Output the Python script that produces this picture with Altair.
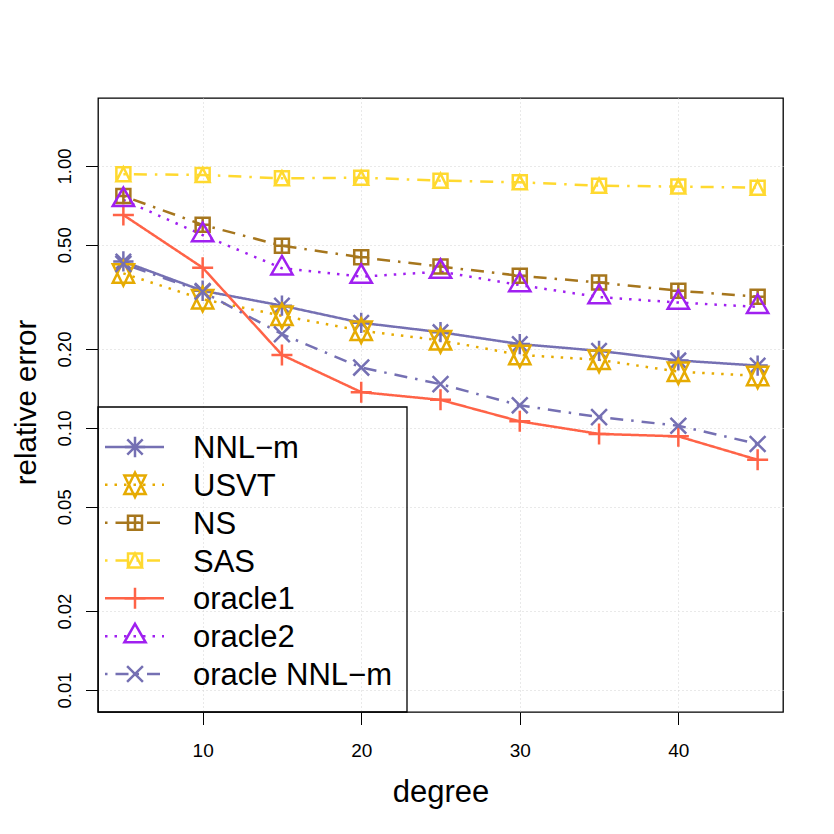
import altair as alt
import pandas as pd

degree = [5, 10, 15, 20, 25, 30, 35, 40, 45]
nnl_m = [0.432, 0.334, 0.293, 0.252, 0.232, 0.209, 0.197, 0.181, 0.173]
usvt = [0.389, 0.310, 0.268, 0.235, 0.216, 0.190, 0.182, 0.164, 0.158]
ns = [0.768, 0.596, 0.496, 0.448, 0.413, 0.381, 0.359, 0.334, 0.317]
sas = [0.930, 0.924, 0.897, 0.902, 0.879, 0.866, 0.841, 0.834, 0.826]
oracle1 = [0.650, 0.409, 0.190, 0.137, 0.128, 0.106, 0.0949, 0.0929, 0.0756]
oracle2 = [0.742, 0.545, 0.407, 0.378, 0.395, 0.351, 0.316, 0.301, 0.290]
oracle_nnl_m = [0.423, 0.331, 0.228, 0.170, 0.147, 0.122, 0.110, 0.102, 0.0869]

methods = ["NNL\u2212m", "USVT", "NS", "SAS", "oracle1", "oracle2", "oracle NNL\u2212m"]
series = [nnl_m, usvt, ns, sas, oracle1, oracle2, oracle_nnl_m]
colors = ["#7570B3", "#E6AB02", "#A6761D", "#FFD92F", "#FF6347", "#A020F0", "#7570B3"]
dot = [2.5, 7]
dotdash = [2.5, 8, 13, 8]
dashes = [[1, 0], dot, dotdash, dotdash, [1, 0], dot, dotdash]
shapes = [
    "M-1.45,0L1.45,0M0,-1.45L0,1.45M-1.1,-1.1L1.1,1.1M-1.1,1.1L1.1,-1.1",
    "M0,-1.76L1.52,1.32L-1.52,1.32ZM0,1.76L1.52,-1.32L-1.52,-1.32Z",
    "M-1,-1L1,-1L1,1L-1,1ZM0,-1L0,1M-1,0L1,0",
    "M-1,-1L1,-1L1,1L-1,1ZM0,-1L1,1L-1,1Z",
    "M-1.5,0L1.5,0M0,-1.5L0,1.5",
    "M0,-1.76L1.52,0.88L-1.52,0.88Z",
    "M-1.13,-1.13L1.13,1.13M-1.13,1.13L1.13,-1.13",
]
y_ticks = [0.01, 0.02, 0.05, 0.1, 0.2, 0.5, 1.0]
x_ticks = [10, 20, 30, 40]

rows = []
for m, vals in zip(methods, series):
    for d, v in zip(degree, vals):
        rows.append({"degree": d, "error": v, "method": m})
df = pd.DataFrame(rows)
leg_df = pd.DataFrame({"method": methods})
box_df = pd.DataFrame({"k": [0]})

W, H = 685, 614
FONT = "Liberation Sans"

color_enc = alt.Color("method:N", scale=alt.Scale(domain=methods, range=colors), legend=None)
dash_enc = alt.StrokeDash("method:N", scale=alt.Scale(domain=methods, range=dashes), legend=None)
shape_enc = alt.Shape("method:N", scale=alt.Scale(domain=methods, range=shapes), legend=None)

x_enc = alt.X(
    "degree:Q",
    scale=alt.Scale(domain=[3.4, 46.6], nice=False, zero=False),
    axis=alt.Axis(
        values=x_ticks, title="degree", grid=True, gridDash=[1, 3], gridColor="#D3D3D3",
        gridWidth=1, domain=False, tickColor="black", tickSize=12.5, tickWidth=1,
        labelFont=FONT, labelFontSize=19, labelColor="black", labelBaseline="alphabetic",
        labelPadding=31.5, labelFlush=False,
        titleFont=FONT, titleFontSize=31, titleFontWeight="normal", titleColor="black",
        titleBaseline="alphabetic", titleX=W / 2, titleY=89, titleAlign="center",
    ),
)
y_enc = alt.Y(
    "error:Q",
    scale=alt.Scale(type="log", domain=[0.00824, 1.817], nice=False, zero=False),
    axis=alt.Axis(
        values=y_ticks, title="relative error", grid=True, gridDash=[1, 3], gridColor="#D3D3D3",
        gridWidth=1, domain=False, tickColor="black", tickSize=12.5, tickWidth=1,
        labelExpr="format(datum.value, '.2f')", labelAngle=270, labelAlign="center",
        labelBaseline="alphabetic", labelPadding=15, labelFlush=False,
        labelFont=FONT, labelFontSize=18.5, labelColor="black",
        titleFont=FONT, titleFontSize=29.5, titleFontWeight="normal", titleColor="black",
        titleAngle=270, titleBaseline="alphabetic", titleAlign="center", titleX=-63, titleY=304,
    ),
)

base = alt.Chart(df)
lines = base.mark_line(strokeWidth=2.5).encode(
    x=x_enc, y=y_enc, color=color_enc, strokeDash=dash_enc, detail="method:N"
)
points = base.mark_point(filled=False, size=196, strokeWidth=2.5, opacity=1).encode(
    x="degree:Q", y="error:Q", color=color_enc, shape=shape_enc
)
data_layer = alt.layer(lines, points)

leg_y = alt.Y(
    "method:N",
    scale=alt.Scale(type="point", domain=methods, range=[349, 576], padding=0),
    axis=None,
)
leg_base = alt.Chart(leg_df)
leg_lines = leg_base.mark_rule(strokeWidth=2.5).encode(
    x=alt.value(7), x2=alt.value(66), y=leg_y, color=color_enc, strokeDash=dash_enc
)
leg_points = leg_base.mark_point(filled=False, size=196, strokeWidth=2.5, opacity=1).encode(
    x=alt.value(37), y=leg_y, color=color_enc, shape=shape_enc
)
leg_text = leg_base.mark_text(
    align="left", baseline="alphabetic", dy=11, font=FONT, fontSize=31, color="black"
).encode(x=alt.value(95), y=leg_y, text="method:N")
leg_box = alt.Chart(box_df).mark_rect(fillOpacity=0, stroke="black", strokeWidth=1.3).encode(
    x=alt.value(0), x2=alt.value(309), y=alt.value(309), y2=alt.value(614)
)

legend = alt.layer(leg_box, leg_lines, leg_points, leg_text)

chart = (
    alt.layer(data_layer, legend)
    .resolve_scale(y="independent")
    .properties(
        width=W, height=H,
        autosize=alt.AutoSizeParams(type="none"),
        padding={"left": 90, "top": 90, "right": 40, "bottom": 112},
        background="white",
    )
    .configure_view(stroke="black", strokeWidth=1.3)
)

chart.save("out.html", embed_options={"renderer": "svg", "actions": False})
